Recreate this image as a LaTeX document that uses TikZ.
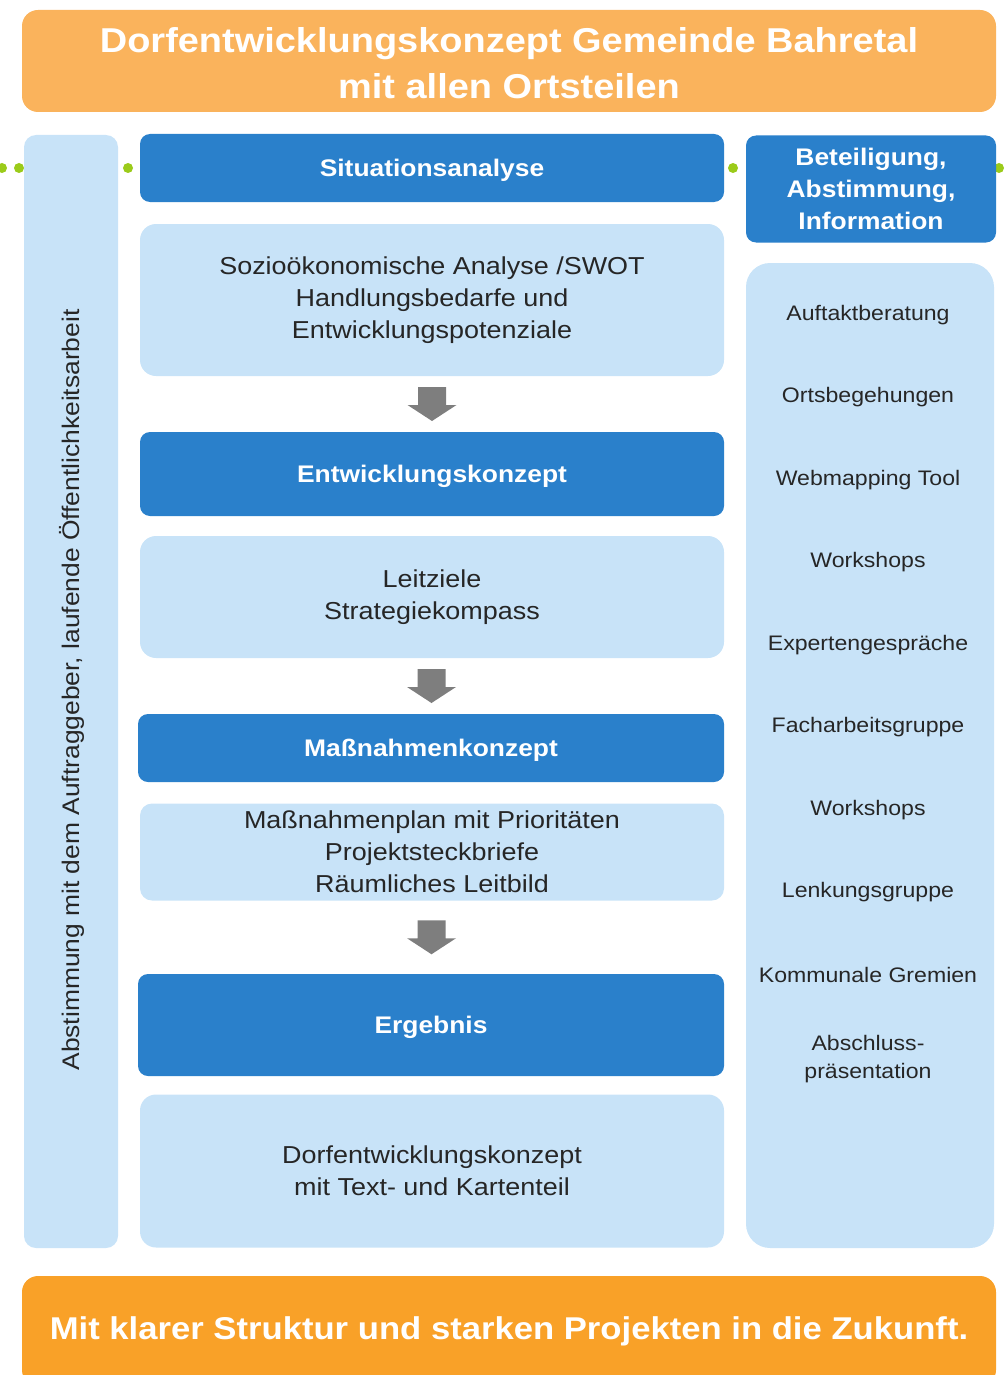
\documentclass[tikz,border=0pt]{standalone}
\usepackage{fontspec}
\setmainfont[FakeStretch=1.1]{Liberation Sans}
\usetikzlibrary{calc}
\definecolor{orA}{HTML}{FAB35C}
\definecolor{orB}{HTML}{F9A128}
\definecolor{dblue}{HTML}{2A80CB}
\definecolor{lblue}{HTML}{C8E3F8}
\definecolor{gdot}{HTML}{9BCB1A}
\definecolor{txt}{HTML}{262626}
\definecolor{agray}{HTML}{7E7E7E}
\tikzset{
  hdr/.style={fill=dblue, rounded corners=10pt, text=white, font=\fontsize{24}{32}\selectfont\bfseries, align=center, inner sep=0pt, text depth=0pt},
  lbox/.style={fill=lblue, rounded corners=16pt, text=txt, font=\fontsize{24.5}{32}\selectfont, align=center, inner sep=0pt},
  item/.style={text=txt, font=\fontsize{21}{28}\selectfont, align=center, inner sep=0pt},
  obox/.style={rounded corners=16pt, text=white, align=center, inner sep=0pt},
  gd/.style={circle, fill=gdot, minimum size=10pt, inner sep=0pt}
}
\newcommand{\downarr}[1]{\fill[agray] ($(#1)+(-14,-17)$) -- ($(#1)+(14,-17)$) -- ($(#1)+(14,1)$) -- ($(#1)+(24.5,1)$) -- ($(#1)+(0,17)$) -- ($(#1)+(-24.5,1)$) -- ($(#1)+(-14,1)$) -- cycle;}
\begin{document}
\begin{tikzpicture}[x=1pt,y=-1pt]
\useasboundingbox (0,0) rectangle (1004,1375);
% title
\node[obox, fill=orA, minimum width=974pt, minimum height=102pt] (title) at (509,61) {};
\node[text=white, align=center, inner sep=0pt, font=\fontsize{34.5}{46}\selectfont\bfseries] (titletxt) at (509,63) {Dorfentwicklungskonzept Gemeinde Bahretal\\mit allen Ortsteilen};
% green dots
\node[gd] (d1) at (2,168) {};
\node[gd] (d2) at (19,168) {};
\node[gd] (d3) at (128,168) {};
\node[gd] (d4) at (733,168) {};
\node[gd] (d5) at (999,168) {};
% left column
\node[fill=lblue, rounded corners=12pt, minimum width=94pt, minimum height=1113pt, inner sep=0pt] (left) at (71,691.5) {};
\node[rotate=90, text=txt, font=\fontsize{24}{28}\selectfont, inner sep=0pt] (lefttxt) at (72,690) {Abstimmung mit dem Auftraggeber, laufende Öffentlichkeitsarbeit};
% center column
\node[hdr, minimum width=584pt, minimum height=68pt] (h1) at (432,168) {Situationsanalyse};
\node[lbox, minimum width=584pt, minimum height=152pt] (b1) at (432,300) {Sozioökonomische Analyse /SWOT\\Handlungsbedarfe und\\Entwicklungspotenziale};
\node[hdr, minimum width=584pt, minimum height=84pt] (h2) at (432,474) {Entwicklungskonzept};
\node[lbox, minimum width=584pt, minimum height=122pt] (b2) at (432,597) {Leitziele\\Strategiekompass};
\node[hdr, minimum width=586pt, minimum height=68pt] (h3) at (431,748) {Maßnahmenkonzept};
\node[lbox, rounded corners=12pt, minimum width=584pt, minimum height=97pt] (b3) at (432,852) {Maßnahmenplan mit Prioritäten\\Projektsteckbriefe\\Räumliches Leitbild};
\node[hdr, minimum width=586pt, minimum height=102pt] (h4) at (431,1025) {Ergebnis};
\node[lbox, minimum width=584pt, minimum height=153pt] (b4) at (432,1171) {Dorfentwicklungskonzept\\mit Text- und Kartenteil};
% arrows
\coordinate (a1) at ($(b1.south)!0.5!(h2.north)$);
\coordinate (a2) at ($(b2.south)!0.5!(h3.north)$);
\coordinate (a3) at ($(b3.south)!0.5!(h4.north)$);
\downarr{a1}
\downarr{a2}
\downarr{a3}
% right column
\node[hdr, minimum width=250pt, minimum height=107pt] (rh) at (871,189) {Beteiligung,\\Abstimmung,\\Information};
\node[fill=lblue, rounded corners=24pt, minimum width=248pt, minimum height=985pt, inner sep=0pt] (right) at (870,755.5) {};
\node[item] (r1) at (868,315) {Auftaktberatung};
\node[item] (r2) at (868,397) {Ortsbegehungen};
\node[item] (r3) at (868,480) {Webmapping Tool};
\node[item] (r4) at (868,562) {Workshops};
\node[item] (r5) at (868,645) {Expertengespräche};
\node[item] (r6) at (868,727) {Facharbeitsgruppe};
\node[item] (r7) at (868,810) {Workshops};
\node[item] (r8) at (868,892) {Lenkungsgruppe};
\node[item] (r9) at (868,975) {Kommunale Gremien};
\node[item] (r10) at (868,1059) {Abschluss-\\präsentation};
% bottom
\node[obox, fill=orB, minimum width=974pt, minimum height=110pt, font=\fontsize{31.5}{36}\selectfont\bfseries] (foot) at (509,1331) {Mit klarer Struktur und starken Projekten in die Zukunft.};
\end{tikzpicture}
\end{document}
